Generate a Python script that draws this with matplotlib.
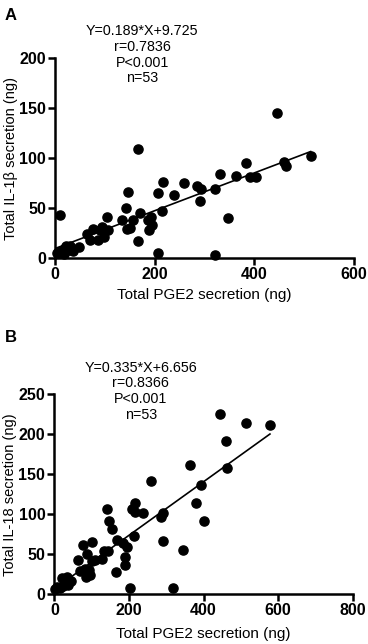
import numpy as np
import matplotlib
matplotlib.use("Agg")
import matplotlib.pyplot as plt

plt.rcParams['font.family'] = ['Liberation Sans', 'DejaVu Sans']

# panel A: PGE2 vs IL-1beta
pge2_a = [3, 10, 13, 18, 20, 23, 28, 31, 37, 49,
          64, 70, 77, 86, 90, 94, 99, 104, 107,
          134, 142, 144, 147, 150, 156, 166, 166, 170,
          187, 188, 192, 194, 207, 207, 217, 214,
          239, 259, 285, 292, 291, 322, 321, 331, 347, 363, 383, 392, 403, 446, 459, 463, 513]
il1b_a = [5, 43, 7, 4, 10, 12, 8, 12, 7, 11,
          24, 18, 29, 18, 28, 31, 21, 41, 28,
          38, 50, 29, 66, 30, 38, 109, 17, 45,
          38, 28, 41, 33, 5, 65, 76, 47,
          63, 75, 72, 69, 57, 69, 3, 84, 40, 82, 95, 81, 81, 145, 96, 92, 102]
slope_a, icpt_a = 0.189, 9.725
stats_a = ["Y=0.189*X+9.725", "r=0.7836", "P<0.001", "n=53"]

# panel B: PGE2 vs IL-18
pge2_b = [2, 8, 15, 24, 20, 28, 33, 38, 46,
          64, 69, 76, 82, 85, 88, 92, 95, 100, 102, 109,
          127, 133, 142, 145, 147, 155, 165, 169, 183, 189, 189, 194, 203,
          207, 216, 216, 213, 238,
          258, 285, 290, 290, 319, 346, 364, 381, 392, 401, 464,
          444, 459, 513, 578]
il18_b = [6, 9, 7.5, 10, 20, 14, 21, 12, 16,
          43, 29.5, 61, 31, 22, 50, 30, 24, 41, 65, 43,
          44, 54, 107, 54, 91, 81, 28, 68, 64, 47, 37, 59, 8,
          107, 114, 103, 73, 102,
          142, 97, 101, 66, 8, 55, 161, 114, 136, 91, 158,
          225, 191, 214, 212]
slope_b, icpt_b = 0.335, 6.656
stats_b = ["Y=0.335*X+6.656", "r=0.8366", "P<0.001", "n=53"]

fig = plt.figure(figsize=(3.68, 6.44), dpi=100)


def panel(rect, xs, ys, slope, icpt, xmax, ymax, xstep, ystep, ylabel, stats, txt_xy, letter, xpad):
    ax = fig.add_axes(rect)
    ax.plot(xs, ys, 'o', color='black', ms=6.6, clip_on=False, zorder=3)
    # regression line over the range of the data
    lx = np.array([0, max(xs)])
    ax.plot(lx, slope * lx + icpt, color='black', lw=1.2, zorder=2)
    ax.set_xlim(0, xmax)
    ax.set_ylim(0, ymax)
    ax.set_xticks(np.arange(0, xmax + 1, xstep))
    ax.set_yticks(np.arange(0, ymax + 1, ystep))
    for s in ['top', 'right']:
        ax.spines[s].set_visible(False)
    for s in ['left', 'bottom']:
        ax.spines[s].set_linewidth(1.8)
    ax.tick_params(width=1.8, length=5, direction='out', labelsize=11.5, pad=1.5)
    for lab in ax.get_xticklabels() + ax.get_yticklabels():
        lab.set_fontweight('bold')
    ax.set_xlabel('Total PGE2 secretion (ng)', fontsize=11, labelpad=xpad)
    ax.set_ylabel(ylabel, fontsize=10.5, labelpad=1)
    ax.text(txt_xy[0], txt_xy[1], "\n".join(stats), ha='center', va='top',
            fontsize=10.3, linespacing=1.15, transform=ax.transData, clip_on=False)
    fig.text(0.012, letter[1], letter[0], fontsize=12, fontweight='bold', va='top')
    return ax


panel([0.1495, 0.599, 0.8125, 0.3106], pge2_a, il1b_a, slope_a, icpt_a,
      600, 200, 200, 50, 'Total IL-1β secretion (ng)', stats_a, (175, 234), ('A', 0.988), 4)
panel([0.1476, 0.0772, 0.811, 0.3106], pge2_b, il18_b, slope_b, icpt_b,
      800, 250, 200, 50, 'Total IL-18 secretion (ng)', stats_b, (232, 292), ('B', 0.488), 6)

fig.savefig('out.png', dpi=100)
